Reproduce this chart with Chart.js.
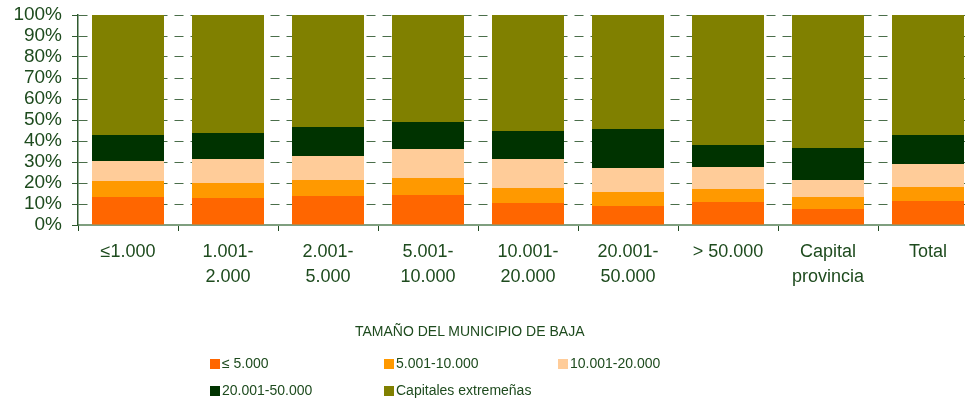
<!DOCTYPE html>
<html>
<head>
<meta charset="utf-8">
<script src="https://cdn.jsdelivr.net/npm/chart.js@4/dist/chart.umd.min.js"></script>
<style>
    html, body { margin: 0; padding: 0; background: #fff; overflow: hidden; }
    #wrap { position: relative; width: 980px; height: 402px; }
    #legend { position: absolute; left: 0; top: 0; width: 965px; height: 402px; pointer-events: none;
        font-family: "Liberation Sans", Arial, sans-serif; color: #1e4b1e; }
    #axisTitle { position: absolute; left: 355px; top: 323px; font-size: 14px; white-space: nowrap; }
    .item { position: absolute; font-size: 14px; white-space: nowrap; line-height: 16px; }
    .item span.box { display: inline-block; width: 10px; height: 10px; margin-right: 2px; vertical-align: -1px; }
</style>
</head>
<body>
<div id="wrap">
    <canvas id="chart"></canvas>
    <div id="legend">
        <div id="axisTitle">TAMAÑO DEL MUNICIPIO DE BAJA</div>
    </div>
</div>
<script>
// categories (municipality size of departure)
const categories = [
    '≤1.000', ['1.001-', '2.000'], ['2.001-', '5.000'], ['5.001-', '10.000'],
    ['10.001-', '20.000'], ['20.001-', '50.000'], '> 50.000', ['Capital', 'provincia'], 'Total'
];

const seriesNames = ['≤ 5.000', '5.001-10.000', '10.001-20.000', '20.001-50.000', 'Capitales extremeñas'];
const seriesColors = ['#FF6600', '#FF9900', '#FFCC99', '#003300', '#808000'];

// percentages
const upTo5000      = [13.3, 12.9, 13.8, 14.3, 10.5,  9.0, 11.0,  7.6, 11.4];
const from5to10     = [ 7.7,  7.1,  7.6,  8.1,  7.1,  6.7,  6.1,  5.7,  6.7];
const from10to20    = [ 9.5, 11.4, 11.5, 13.8, 13.8, 11.4, 10.5,  8.1, 10.9];
const from20to50    = [12.4, 12.4, 13.8, 12.8, 13.4, 18.6, 10.5, 15.3, 13.9];
const capitales     = [57.1, 56.2, 53.3, 51.0, 55.2, 54.3, 61.9, 63.3, 57.1];

const yTicks = [0, 10, 20, 30, 40, 50, 60, 70, 80, 90, 100];

const allSeries = [upTo5000, from5to10, from10to20, from20to50, capitales];
const textColor = '#1e4b1e';
const font = 'Liberation Sans, Arial, sans-serif';

const datasets = allSeries.map((values, i) => ({
    label: seriesNames[i],
    data: values,
    backgroundColor: seriesColors[i],
    borderWidth: 0,
    barPercentage: 0.72,
    categoryPercentage: 1.0
}));

// html legend in three fixed columns
const legendPos = [[210, 355], [384, 355], [558, 355], [210, 382], [384, 382]];
const legendDiv = document.getElementById('legend');
seriesNames.forEach((name, i) => {
    const el = document.createElement('div');
    el.className = 'item';
    el.style.left = legendPos[i][0] + 'px';
    el.style.top = legendPos[i][1] + 'px';
    el.innerHTML = '<span class="box" style="background:' + seriesColors[i] + '"></span>';
    el.appendChild(document.createTextNode(name));
    legendDiv.appendChild(el);
});

const ctx = document.getElementById('chart').getContext('2d');
new Chart(ctx, {
    type: 'bar',
    data: { labels: categories, datasets: datasets },
    options: {
        responsive: true,
        maintainAspectRatio: false,
        animation: false,
        layout: { padding: { top: 15, right: 2, bottom: 102, left: 0 } },
        plugins: {
            legend: { display: false },
            tooltip: { enabled: false }
        },
        scales: {
            x: {
                stacked: true,
                afterFit: scale => { scale.height = 75; },
                grid: {
                    drawOnChartArea: false,
                    drawTicks: true,
                    tickLength: 6,
                    color: '#1e4b1e'
                },
                border: { color: '#7f9f7f', width: 2 },
                ticks: {
                    color: textColor,
                    font: { family: font, size: 18, lineHeight: 1.4 },
                    padding: 8,
                    maxRotation: 0,
                    autoSkip: false
                }
            },
            y: {
                stacked: true,
                min: 0,
                max: 100,
                afterFit: scale => {
                    scale.width = 78;
                    scale.paddingTop = 0;
                    scale.paddingBottom = 0;
                },
                afterBuildTicks: scale => { scale.ticks = yTicks.map(v => ({ value: v })); },
                grid: {
                    color: '#4a6e4a',
                    drawTicks: true,
                    tickLength: 6,
                    tickColor: '#2f5a2f'
                },
                border: { color: '#2f5a2f', width: 1.5, dash: [9, 7] },
                ticks: {
                    color: textColor,
                    font: { family: font, size: 19 },
                    padding: 10,
                    autoSkip: false,
                    callback: v => v + '%'
                }
            }
        }
    }
});
</script>
</body>
</html>
